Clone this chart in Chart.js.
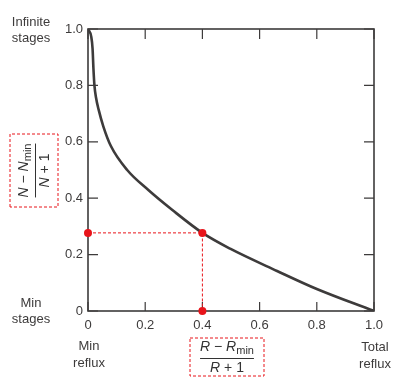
<!DOCTYPE html>
<html lang="en">
<head>
<meta charset="UTF-8">
<title>Gilliland</title>
<style>
  html, body { margin: 0; padding: 0; background: #fff; }
</style>
</head>
<body>
<canvas id="chart" width="405" height="383"></canvas>
<script src="https://cdn.jsdelivr.net/npm/chart.js"></script>
<script>
// curve: (R - Rmin)/(R + 1) vs (N - Nmin)/(N + 1)
const refluxX = [0, 0.0115, 0.016, 0.019, 0.0225, 0.028, 0.0374, 0.0535, 0.08, 0.137, 0.211, 0.295, 0.40, 0.497, 0.661, 0.80, 1.0];
const stagesY = [1.0, 0.972, 0.93, 0.86, 0.80, 0.757, 0.713, 0.655, 0.585, 0.50, 0.429, 0.358, 0.277, 0.221, 0.142, 0.078, 0];

// red operating point
const pointX = [0, 0.4, 0.4];
const pointY = [0.277, 0.277, 0];

const xTickLabels = ['0', '0.2', '0.4', '0.6', '0.8', '1.0'];
const yTickLabels = ['0', '0.2', '0.4', '0.6', '0.8', '1.0'];

const ink = '#3d3b3b';
const red = '#e8141a';
const font = '"Liberation Sans", Arial, sans-serif';

// frame with inward ticks on all four sides
const framePlugin = {
    id: 'frame',
    beforeDatasetsDraw(chart) {
        const { ctx, chartArea: a, scales } = chart;
        ctx.save();
        ctx.strokeStyle = ink;
        ctx.lineWidth = 1.6;
        ctx.strokeRect(a.left, a.top, a.right - a.left, a.bottom - a.top);
        ctx.lineWidth = 1.2;
        ctx.beginPath();
        scales.x.ticks.forEach(t => {
            const px = scales.x.getPixelForValue(t.value);
            ctx.moveTo(px, a.bottom); ctx.lineTo(px, a.bottom - 9);
            ctx.moveTo(px, a.top); ctx.lineTo(px, a.top + 10);
        });
        scales.y.ticks.forEach(t => {
            const py = scales.y.getPixelForValue(t.value);
            ctx.moveTo(a.left, py); ctx.lineTo(a.left + 10, py);
            ctx.moveTo(a.right, py); ctx.lineTo(a.right - 10, py);
        });
        ctx.stroke();
        ctx.restore();
    }
};

function drawParts(ctx, parts, x, y) {
    // parts: [text, style] ; style 'i' italic, 'n' normal, 's' subscript
    let cx = x;
    parts.forEach(p => {
        if (p[1] === 's') {
            ctx.font = '11px ' + font;
            ctx.fillText(p[0], cx, y + 3);
        } else {
            ctx.font = (p[1] === 'i' ? 'italic ' : '') + '14px ' + font;
            ctx.fillText(p[0], cx, y);
        }
        cx += ctx.measureText(p[0]).width;
    });
}

function partsWidth(ctx, parts) {
    let w = 0;
    parts.forEach(p => {
        ctx.font = p[1] === 's' ? '11px ' + font : (p[1] === 'i' ? 'italic ' : '') + '14px ' + font;
        w += ctx.measureText(p[0]).width;
    });
    return w;
}

function drawFraction(ctx, cx, cy, sym, boxW, boxH, rotate) {
    const num = [[sym, 'i'], [' \u2212 ', 'n'], [sym, 'i'], ['min', 's']];
    const den = [[sym, 'i'], [' + 1', 'n']];
    ctx.save();
    ctx.translate(cx, cy);
    if (rotate) ctx.rotate(-Math.PI / 2);
    ctx.setLineDash([3, 2]);
    ctx.strokeStyle = red;
    ctx.lineWidth = 1;
    ctx.strokeRect(-boxW / 2, -boxH / 2, boxW, boxH);
    ctx.setLineDash([]);
    ctx.fillStyle = '#333';
    ctx.textBaseline = 'alphabetic';
    ctx.textAlign = 'left';
    const nw = partsWidth(ctx, num);
    const dw = partsWidth(ctx, den);
    drawParts(ctx, num, -nw / 2, -6);
    drawParts(ctx, den, -dw / 2, 15);
    ctx.strokeStyle = '#333';
    ctx.lineWidth = 1;
    ctx.beginPath();
    ctx.moveTo(-nw / 2, 1.5);
    ctx.lineTo(nw / 2, 1.5);
    ctx.stroke();
    ctx.restore();
}

// side notes and the two axis fractions
const notesPlugin = {
    id: 'notes',
    afterDraw(chart) {
        const { ctx, scales } = chart;
        const x0 = scales.x.getPixelForValue(0);
        const x1 = scales.x.getPixelForValue(1);
        const y0 = scales.y.getPixelForValue(0);
        const y1 = scales.y.getPixelForValue(1);
        ctx.save();
        ctx.fillStyle = ink;
        ctx.font = '13px ' + font;
        ctx.textAlign = 'center';
        ctx.textBaseline = 'middle';
        ctx.fillText('Infinite', 31, y1 - 7);
        ctx.fillText('stages', 31, y1 + 9);
        ctx.fillText('Min', 31, y0 - 8);
        ctx.fillText('stages', 31, y0 + 8);
        ctx.fillText('Min', x0 + 1, 346);
        ctx.fillText('reflux', x0 + 1, 363);
        ctx.fillText('Total', x1 + 1, 347);
        ctx.fillText('reflux', x1 + 1, 364);
        ctx.restore();

        drawFraction(ctx, 34, 170.5, 'N', 73, 48, true);
        drawFraction(ctx, 227, 357, 'R', 74, 38, false);
    }
};

const curvePts = refluxX.map((x, i) => ({ x: x, y: stagesY[i] }));
const redPts = pointX.map((x, i) => ({ x: x, y: pointY[i] }));

new Chart(document.getElementById('chart'), {
    type: 'line',
    data: {
        datasets: [
            {
                data: redPts,
                borderColor: red,
                borderWidth: 1,
                borderDash: [3, 2],
                pointRadius: 4,
                pointBackgroundColor: red,
                pointBorderWidth: 0,
                tension: 0,
                clip: false
            },
            {
                data: curvePts,
                borderColor: ink,
                borderWidth: 2.6,
                pointRadius: 0,
                cubicInterpolationMode: 'monotone'
            }
        ]
    },
    options: {
        responsive: false,
        animation: false,
        devicePixelRatio: 1,
        layout: { padding: { left: 60, right: 31, top: 29, bottom: 52 } },
        plugins: { legend: { display: false }, tooltip: { enabled: false } },
        scales: {
            x: {
                type: 'linear',
                min: 0, max: 1,
                grid: { display: false, drawTicks: false },
                border: { display: false },
                ticks: {
                    stepSize: 0.2,
                    padding: 7,
                    color: ink,
                    font: { family: font, size: 13 },
                    callback: (v, i) => xTickLabels[i]
                },
                afterFit: s => { s.height = 20; }
            },
            y: {
                type: 'linear',
                min: 0, max: 1,
                grid: { display: false, drawTicks: false },
                border: { display: false },
                ticks: {
                    stepSize: 0.2,
                    padding: 5,
                    color: ink,
                    font: { family: font, size: 13 },
                    callback: (v, i) => yTickLabels[i]
                },
                afterFit: s => { s.width = 28; }
            }
        }
    },
    plugins: [framePlugin, notesPlugin]
});
</script>
</body>
</html>
